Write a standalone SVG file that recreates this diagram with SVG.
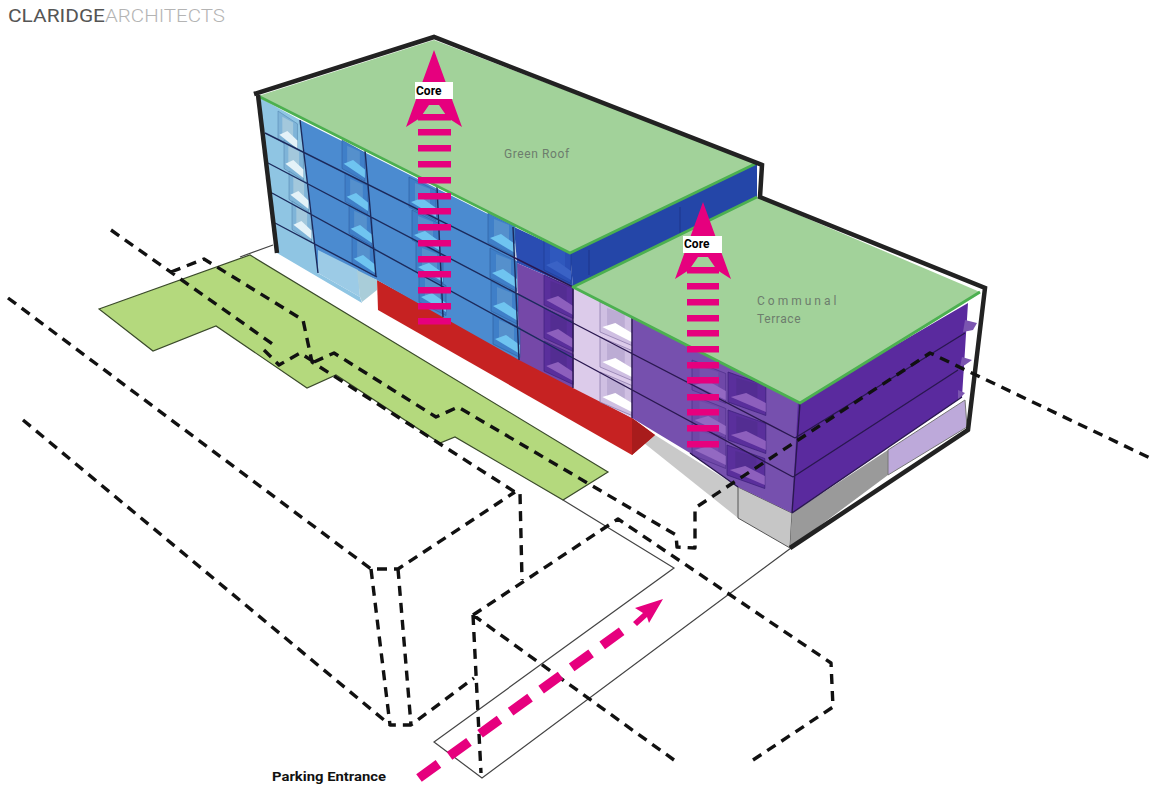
<svg xmlns="http://www.w3.org/2000/svg" xmlns:xlink="http://www.w3.org/1999/xlink" width="1156" height="790" viewBox="0 0 1156 790">
<style>
.dash{fill:none;stroke:#111;stroke-width:3.4;stroke-dasharray:10 7;stroke-linejoin:round}
.thin{fill:none;stroke:#444;stroke-width:1.2}
.fl{fill:none;stroke:#1c2a5c;stroke-width:1.4}
.flp{fill:none;stroke:#2a1850;stroke-width:1.4}
.bar{fill:#e6007e}
.edge{fill:none;stroke:#4cb050;stroke-width:2.8;stroke-linejoin:round}
.blk{fill:none;stroke:#222;stroke-width:4.5;stroke-linejoin:miter}
.t{font-family:"Roboto","Liberation Sans",sans-serif}
.lab{font-size:12px;fill:#6d7d6d}
.core{font-size:12px;font-weight:700;fill:#000}
.b{fill:var(--w);stroke:var(--e);stroke-width:.6}
.i{fill:var(--n)}
.s{fill:var(--c)}
.lb{--w:#7fb4d8;--n:#a3c8dc;--c:#e4f2f8;--e:#4d7ea8}
.bb{--w:#3f7fc8;--n:#5590cc;--c:#6fc4f0;--e:#2c5c9c}
.db{--w:#2a4fb5;--n:#2f58bd;--c:#3a62c5;--e:#1c358a}
.pp{--w:#5a2f9c;--n:#532d92;--c:#8d5fbd;--e:#3a1f78}
.pm{--w:#6f48a8;--n:#7650ae;--c:#9369c2;--e:#4c2c88}
.li{--w:#cfbfe2;--n:#bcacd4;--c:#ffffff;--e:#7f6ca2}
</style>
<defs>
<g id="bay">
<polygon class="b" points="0,0 27,13.5 27,43.5 0,30"/>
<polygon class="i" points="6,6 21,12 21,30 6,24"/>
<polygon class="s" points="2,25 13,21 27,31 27,40"/>
</g>
<polygon id="head" class="bar" points="0,-77 28,0 14,-9 5,-22 -5,-22 -14,-9 -28,0"/>
</defs>

<g id="title">
<text class="t" x="8" y="22" font-size="18" fill="#555" textLength="97" lengthAdjust="spacingAndGlyphs">CLARIDGE</text>
<text class="t" x="105" y="22" font-size="18" fill="#b4b4b4" textLength="120" lengthAdjust="spacingAndGlyphs" font-weight="300">ARCHITECTS</text>
</g>

<g id="ground">
<polygon points="99,309 250,255 608,472 563,500 455,437 440,443 336,375 307,388 216,326 153,351" fill="#b4d97d" stroke="#3a4a2a" stroke-width="1.2"/>
<path class="thin" d="M240,257 273,245M563,500 674,568 434,742 482,778 791,548"/>
<polygon points="644,443 655,435 738,487 738,518" fill="#c9c9c9"/>
</g>

<g id="building">
<polygon points="377,280 632,418 655,435 632,455 378,310" fill="#c62222"/>
<polygon points="632,418 655,435 632,455" fill="#a81c1c"/>
<polygon points="738,487 792,513 790,548 738,518" fill="#c6c6c6" stroke="#555" stroke-width="1"/>
<polygon points="792,513 888,450 888,475 790,548" fill="#9a9a9a"/>
<polygon points="888,450 965,400 967,427 888,475" fill="#bda9da" stroke="#777" stroke-width="1"/>
<polygon points="260,98 300,120 318,273 360,297 362,303 277,253" fill="#8fc5e3"/>
<polygon points="300,120 514,227 519,360 377,280 365,275 318,273" fill="#4b8bd0"/>
<polygon points="318,250 358,270 360,297 318,273" fill="#9ccbe6"/>
<polygon points="357,270 377,280 377,290 362,302 360,297" fill="#a9cdd9"/>
<polygon points="514,227 570,253 573,287 517,263" fill="#2a4db2"/>
<polygon points="517,263 573,287 573,388 519,360" fill="#7548a8"/>
<polygon points="570,253 757,163 757,197 573,287" fill="#2446a8"/>
<path d="M589,250V275M680,207V235" stroke="#1c358a" stroke-width="1" fill="none"/>
<polygon points="573,287 632,318 632,418 573,388" fill="#dccbea"/>
<polygon points="632,318 800,403 792,513 738,487 690,453 632,418" fill="#7650ae"/>
<polygon points="798,402 968,303 962,397 792,513" fill="#5a2a9e"/>
<g class="lb">
<use xlink:href="#bay" transform="translate(278,111) scale(.72,.95)"/>
<use xlink:href="#bay" transform="translate(284,140) scale(.72,.95)"/>
<use xlink:href="#bay" transform="translate(289,171) scale(.72,.95)"/>
<use xlink:href="#bay" transform="translate(292,201) scale(.72,.95)"/>
</g>
<g class="bb">
<use xlink:href="#bay" transform="translate(342,140) scale(.85,.95)"/>
<use xlink:href="#bay" transform="translate(345,173) scale(.85,.95)"/>
<use xlink:href="#bay" transform="translate(349,205) scale(.85,.95)"/>
<use xlink:href="#bay" transform="translate(352,235) scale(.85,.95)"/>
<use xlink:href="#bay" transform="translate(409,177)"/>
<use xlink:href="#bay" transform="translate(412,210)"/>
<use xlink:href="#bay" transform="translate(416,242)"/>
<use xlink:href="#bay" transform="translate(419,272)"/>
<use xlink:href="#bay" transform="translate(488,213)"/>
<use xlink:href="#bay" transform="translate(490,248)"/>
<use xlink:href="#bay" transform="translate(491,281)"/>
<use xlink:href="#bay" transform="translate(493,314)"/>
</g>
<use class="db" xlink:href="#bay" transform="translate(544,240)"/>
<g class="pp">
<use xlink:href="#bay" transform="translate(544,275) scale(1.08,1)"/>
<use xlink:href="#bay" transform="translate(544,308) scale(1.08,1)"/>
<use xlink:href="#bay" transform="translate(544,341) scale(1.08,1)"/>
<use xlink:href="#bay" transform="translate(728,372) scale(1.4,1)"/>
<use xlink:href="#bay" transform="translate(728,410) scale(1.4,1)"/>
<use xlink:href="#bay" transform="translate(727,445) scale(1.4,1)"/>
</g>
<g class="pm">
<use xlink:href="#bay" transform="translate(692,360) scale(1.25,1)"/>
<use xlink:href="#bay" transform="translate(692,395) scale(1.25,1)"/>
<use xlink:href="#bay" transform="translate(692,425) scale(1.25,1)"/>
</g>
<g class="li">
<use xlink:href="#bay" transform="translate(600,302) scale(1.18,1)"/>
<use xlink:href="#bay" transform="translate(600,337) scale(1.18,1)"/>
<use xlink:href="#bay" transform="translate(600,372) scale(1.18,1)"/>
</g>
<polygon points="965,320 977,323 973,330 963,332" fill="#7b55b0"/>
<polygon points="962,357 972,360 965,365 960,367" fill="#7b55b0"/>
<polygon points="958,390 965,393 958,400" fill="#7b55b0"/>
<path class="fl" d="M265,133 513,257M268,163 573,323M272,193 573,358M275,223 377,277M300,120 318,273M365,150 376,277M437,187 443,317M513,227 519,360"/>
<path class="flp" d="M513,257 573,287M573,287 573,388M573,323 795,438M573,358 793,477M632,318 632,418M795,438 965,333M793,477 958,370M800,403 792,513M792,513 962,397M690,453 738,487"/>
</g>

<g id="roof-main">
<polygon points="258,96 434,40 757,163 570,253" fill="#a2d29a"/>
<polyline class="edge" points="258,96 570,253 757,163"/>
<text class="t lab" x="504" y="158" letter-spacing=".6">Green Roof</text>
</g>
<g id="roof-terrace">
<polygon points="573,287 757,197 980,292 800,403" fill="#a2d29a"/>
<polyline class="edge" points="757,197 573,287 800,403 980,292"/>
<text class="t lab" x="757" y="305" letter-spacing="3">Communal</text>
<text class="t lab" x="757" y="323" letter-spacing=".6">Terrace</text>
</g>
<g id="outline">
<path class="blk" d="M254,94 434,37 762,165 760,197 985,288 968,430 790,548"/>
<path class="blk" d="M258,95 277,253"/>
</g>

<g id="connectors">
<path class="dash" d="M111,230 274,345M171,272 204,259 303,320 312,362 515,492 520,493 522,580M314,362 334,353 436,417 458,407 676,535 677,547 695,548 695,508 930,353 1150,458M264,350 279,365 300,353 314,362"/>
<path class="dash" d="M8,298 371,569 398,569 515,492M371,569 390,725 411,725 474,678M398,569 411,725M23,420 390,725M473,615 481,773M473,615 618,519 831,663 833,707 750,762M473,615 674,760"/>
</g>

<g id="core-1">
<g class="bar">
<rect x="418" y="114" width="33" height="6.5"/><rect x="418" y="129" width="33" height="6.5"/><rect x="418" y="145" width="33" height="6.5"/><rect x="418" y="161" width="33" height="6.5"/><rect x="418" y="177" width="33" height="6.5"/><rect x="418" y="193" width="33" height="6.5"/><rect x="418" y="208" width="33" height="6.5"/><rect x="418" y="224" width="33" height="6.5"/><rect x="418" y="240" width="33" height="6.5"/><rect x="418" y="256" width="33" height="6.5"/><rect x="418" y="271" width="33" height="6.5"/><rect x="418" y="287" width="33" height="6.5"/><rect x="418" y="303" width="33" height="6.5"/><rect x="418" y="318" width="33" height="6.5"/>
</g>
<use xlink:href="#head" transform="translate(434,127)"/>
<rect x="415" y="82" width="38" height="17" fill="#fff"/>
<text class="t core" x="416" y="95">Core</text>
</g>
<g id="core-2">
<g class="bar">
<rect x="687" y="267" width="32" height="6.5"/><rect x="687" y="283" width="32" height="6.5"/><rect x="687" y="299" width="32" height="6.5"/><rect x="687" y="315" width="32" height="6.5"/><rect x="687" y="330" width="32" height="6.5"/><rect x="687" y="346" width="32" height="6.5"/><rect x="687" y="362" width="32" height="6.5"/><rect x="687" y="377" width="32" height="6.5"/><rect x="687" y="394" width="32" height="6.5"/><rect x="687" y="409" width="32" height="6.5"/><rect x="687" y="425" width="32" height="6.5"/><rect x="687" y="441" width="32" height="6.5"/>
</g>
<use xlink:href="#head" transform="translate(703,279)"/>
<rect x="683" y="236" width="39" height="17" fill="#fff"/>
<text class="t core" x="684" y="248">Core</text>
</g>

<g id="parking">
<path d="M419,778 622,631" fill="none" stroke="#e6007e" stroke-width="9.5" stroke-dasharray="24 13.7"/>
<polygon class="bar" points="663,599 635,608 643,613 633,622 637,626 647,617 649,623"/>
<text class="t" x="272" y="781" font-size="13" font-weight="700" fill="#111" textLength="114" lengthAdjust="spacingAndGlyphs">Parking Entrance</text>
</g>
</svg>
